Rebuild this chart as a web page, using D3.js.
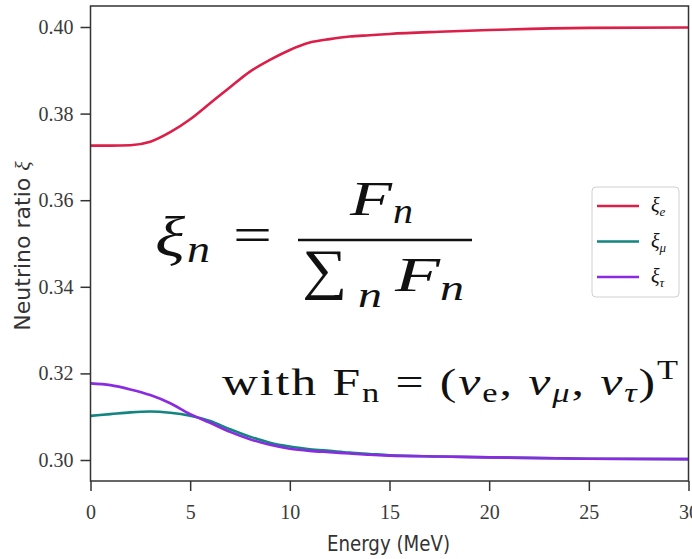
<!DOCTYPE html>
<html>
<head>
<meta charset="utf-8">
<script src="https://cdn.jsdelivr.net/npm/d3@7"></script>
<style>
    body { margin: 0; background: #fff; }
    svg { display: block; }
    .axis-label { font-family: "DejaVu Sans", sans-serif; fill: #333; }
    .math { font-family: "Liberation Serif", serif; fill: #111; }
    .tick text { font-family: "Liberation Serif", "Times New Roman", serif !important; }
</style>
</head>
<body>
<svg id="chart" width="692" height="559"></svg>
<script>
// energy grid (MeV)
const energy = [0, 1, 2, 3, 4, 5, 6, 7, 8, 9, 10, 11, 12, 13, 14, 15, 17.5, 20, 25, 30];
const xiE = [0.3726, 0.3726, 0.3727, 0.3735, 0.3757, 0.3787, 0.3824, 0.3861, 0.3897, 0.3924,
             0.3947, 0.3964, 0.3972, 0.3978, 0.3981, 0.3984, 0.3989, 0.3993, 0.3998, 0.3999];
const xiMu = [0.3102, 0.3106, 0.3110, 0.3112, 0.3109, 0.3102, 0.3090, 0.3071, 0.3054, 0.3040,
              0.3031, 0.3025, 0.3021, 0.3017, 0.3014, 0.3011, 0.3008, 0.3006, 0.3003, 0.3002];
const xiTau = [0.3177, 0.3173, 0.3163, 0.3150, 0.3131, 0.3106, 0.3086, 0.3065, 0.3048, 0.3035,
               0.3026, 0.3021, 0.3018, 0.3015, 0.3012, 0.3010, 0.3008, 0.3006, 0.3003, 0.3002];
const xTicks = [0, 5, 10, 15, 20, 25, 30];
const yTicks = [0.30, 0.32, 0.34, 0.36, 0.38, 0.40];
const seriesNames = ["e", "μ", "τ"];
const seriesColors = ["#dc1f48", "#138580", "#8a2be2"];

const svg = d3.select("#chart");
const plotLeft = 90.5, plotRight = 688.5, plotTop = 6, plotBottom = 481;

const x = d3.scaleLinear().domain([0, 30]).range([plotLeft, plotRight]);
const y = d3.scaleLinear().domain([0.29515, 0.40485]).range([plotBottom, plotTop]);

// curves
const line = d3.line()
    .x(d => x(d[0]))
    .y(d => y(d[1]))
    .curve(d3.curveMonotoneX);

[xiE, xiMu, xiTau].forEach((vals, i) => {
    svg.append("path")
        .datum(energy.map((e, j) => [e, vals[j]]))
        .attr("fill", "none")
        .attr("stroke", seriesColors[i])
        .attr("stroke-width", 2.6)
        .attr("d", line);
});

// axes
const xAxis = svg.append("g")
    .attr("transform", `translate(0,${plotBottom})`)
    .call(d3.axisBottom(x).tickValues(xTicks).tickSize(10).tickPadding(14).tickFormat(d3.format("d")));
const yAxis = svg.append("g")
    .attr("transform", `translate(${plotLeft},0)`)
    .call(d3.axisLeft(y).tickValues(yTicks).tickSize(10).tickPadding(7).tickFormat(d3.format(".2f")));
[xAxis, yAxis].forEach(g => {
    g.select(".domain").remove();
    g.attr("font-family", "Liberation Serif, serif").attr("font-size", 20);
    g.selectAll(".tick line").attr("stroke", "#333").attr("stroke-width", 1.5);
    g.selectAll(".tick text").attr("fill", "#3a3a3a");
});

// frame
svg.append("rect")
    .attr("x", plotLeft).attr("y", plotTop)
    .attr("width", plotRight - plotLeft).attr("height", plotBottom - plotTop)
    .attr("fill", "none").attr("stroke", "#333").attr("stroke-width", 1.5);

// axis labels
svg.append("text")
    .attr("class", "axis-label")
    .attr("x", 327).attr("y", 551)
    .attr("font-size", 21)
    .attr("textLength", 123).attr("lengthAdjust", "spacingAndGlyphs")
    .text("Energy (MeV)");
const yl = svg.append("text")
    .attr("class", "axis-label")
    .attr("transform", "translate(30,246) rotate(-90)")
    .attr("text-anchor", "middle")
    .attr("font-size", 22);
yl.append("tspan").text("Neutrino ratio ");
yl.append("tspan").attr("font-family", "'Liberation Serif', serif").attr("font-style", "italic").text("ξ");

// legend
const legend = svg.append("g");
legend.append("rect")
    .attr("x", 592).attr("y", 187).attr("width", 87).attr("height", 110).attr("rx", 4)
    .attr("fill", "#fff").attr("fill-opacity", 0.8)
    .attr("stroke", "#d0d0d0");
seriesNames.forEach((n, i) => {
    const ly = 206 + i * 35.5;
    legend.append("line")
        .attr("x1", 597).attr("x2", 639).attr("y1", ly).attr("y2", ly)
        .attr("stroke", seriesColors[i]).attr("stroke-width", 2.6);
    const t = legend.append("text").attr("class", "math")
        .attr("x", 651).attr("y", ly + 6).attr("font-size", 20).attr("font-style", "italic");
    t.append("tspan").text("ξ");
    t.append("tspan").attr("dy", 4).attr("font-size", 13).text(n);
});

// formula: each glyph placed and stretched to the width it has in the picture
const eq = svg.append("g").attr("class", "math");
const glyphs = [
    // text, x, baseline, size, italic, width
    ["ξ", 155, 256, 56, true, 30],
    ["n", 187, 262, 38, true, 23],
    ["=", 233, 251, 48, false, 39],
    ["F", 350, 215, 48, true, 42],
    ["n", 393, 223, 36, true, 20],
    ["∑", 302, 288, 56, false, 45],
    ["n", 358, 307, 36, true, 24],
    ["F", 395, 291, 48, true, 45],
    ["n", 440, 300, 36, true, 24]
];
glyphs.forEach(([t, gx, gy, fs, it, gw]) => {
    eq.append("text")
        .attr("x", gx).attr("y", gy)
        .attr("font-size", fs)
        .attr("font-style", it ? "italic" : "normal")
        .attr("textLength", gw).attr("lengthAdjust", "spacingAndGlyphs")
        .text(t);
});
eq.append("line").attr("x1", 298).attr("x2", 472).attr("y1", 240).attr("y2", 240)
    .attr("stroke", "#111").attr("stroke-width", 2.4);

// second line, widened to the span it takes in the picture
const wg = eq.append("g");
const w = wg.append("text").attr("x", 0).attr("y", 0).attr("font-size", 39)
    .attr("letter-spacing", 1.5);
w.append("tspan").text("with F");
w.append("tspan").attr("font-size", 27).attr("dy", 7).text("n");
w.append("tspan").attr("dy", -7).text(" = (");
w.append("tspan").attr("font-style", "italic").text("ν");
w.append("tspan").attr("font-size", 27).attr("dy", 7).text("e");
w.append("tspan").attr("dy", -7).text(", ");
w.append("tspan").attr("font-style", "italic").text("ν");
w.append("tspan").attr("font-style", "italic").attr("font-size", 27).attr("dy", 7).text("μ");
w.append("tspan").attr("dy", -7).text(", ");
w.append("tspan").attr("font-style", "italic").text("ν");
w.append("tspan").attr("font-style", "italic").attr("font-size", 27).attr("dy", 7).text("τ");
w.append("tspan").attr("dy", -7).text(")");
w.append("tspan").attr("font-size", 27).attr("dy", -16).text("T");
const wWidth = w.node().getBBox().width;
wg.attr("transform", `translate(222,395) scale(${458 / wWidth},1)`);
</script>
</body>
</html>
